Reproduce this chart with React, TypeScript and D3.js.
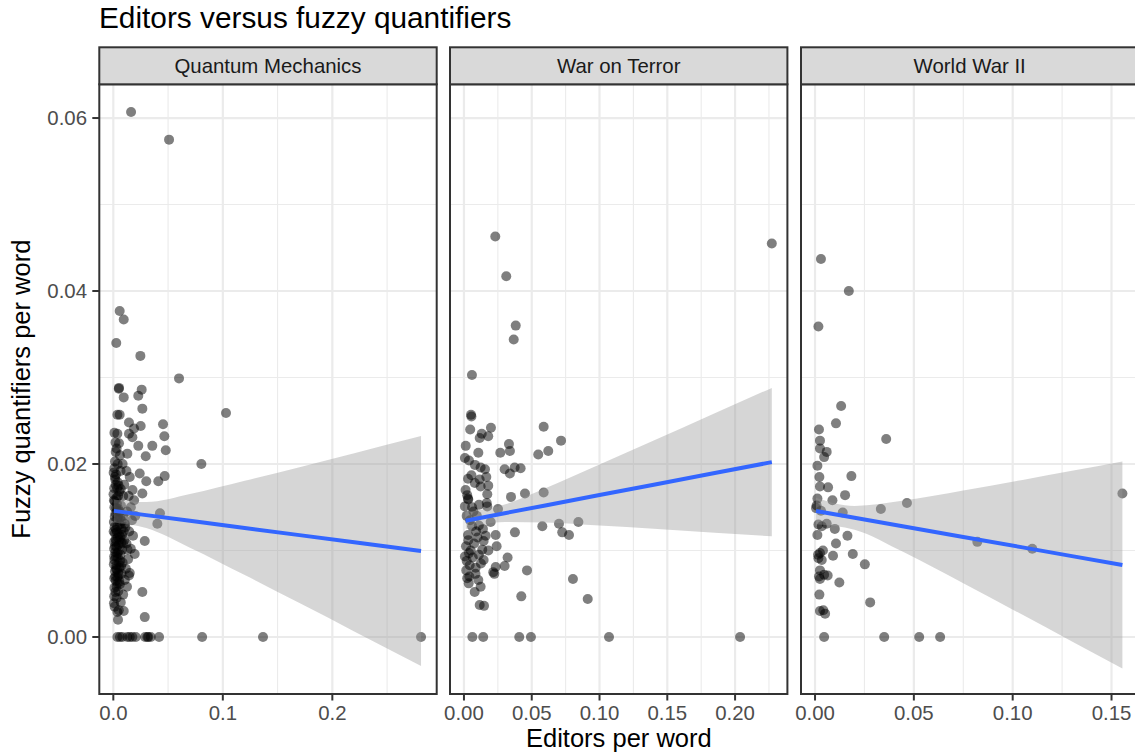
import React from "react";
import * as d3 from "d3";

// ---------- data ----------
const panels = ["Quantum Mechanics", "War on Terror", "World War II"];

// [editors per word, fuzzy quantifiers per word]
const qmPoints: [number, number][] = [
  [0.0162, 0.0607], [0.0509, 0.0575], [0.0058, 0.0377], [0.0095, 0.0367], [0.0027, 0.034],
  [0.0247, 0.0325], [0.06, 0.0299], [0.0052, 0.0288], [0.005, 0.0287], [0.0259, 0.0286],
  [0.0095, 0.0277], [0.0228, 0.0279], [0.0265, 0.0264], [0.0037, 0.0257], [0.0058, 0.0257],
  [0.0143, 0.0248], [0.025, 0.0244], [0.0189, 0.0241], [0.0454, 0.0246], [0.1029, 0.0259],
  [0.0037, 0.0235], [0.0143, 0.0235], [0.0466, 0.0232], [0.0174, 0.0231], [0.0052, 0.0224],
  [0.0228, 0.0221], [0.0356, 0.0221], [0.0479, 0.0216], [0.0022, 0.0214], [0.0128, 0.0212],
  [0.0296, 0.0209], [0.0804, 0.02], [0.0241, 0.0189], [0.0301, 0.018], [0.0411, 0.018],
  [0.0469, 0.0186], [0.0265, 0.0166], [0.0426, 0.0143], [0.0402, 0.0131], [0.0287, 0.0111],
  [0.0143, 0.0071], [0.0265, 0.0052], [0.0287, 0.0023], [0.0006, 0.0039], [0.0037, 0.0029],
  [0.0043, 0.002],
  [0.0037, 0], [0.006, 0], [0.0082, 0], [0.0128, 0], [0.015, 0], [0.0174, 0], [0.0205, 0],
  [0.029, 0], [0.0311, 0], [0.032, 0], [0.0342, 0], [0.0418, 0], [0.0811, 0], [0.1367, 0], [0.281, 0],
  [0.001, 0.0195], [0.0025, 0.0188], [0.004, 0.0179], [0.0008, 0.0172], [0.0055, 0.0168],
  [0.003, 0.0161], [0.0012, 0.0157], [0.007, 0.0152], [0.0045, 0.0148], [0.002, 0.0143],
  [0.009, 0.014], [0.0035, 0.0137], [0.0005, 0.0133], [0.006, 0.013], [0.011, 0.0127],
  [0.0025, 0.0124], [0.0015, 0.012], [0.008, 0.0118], [0.004, 0.0115], [0.01, 0.0112],
  [0.0008, 0.011], [0.005, 0.0107], [0.003, 0.0104], [0.013, 0.0101], [0.0018, 0.0098],
  [0.0065, 0.0095], [0.0042, 0.0092], [0.001, 0.0089], [0.0085, 0.0086], [0.0028, 0.0083],
  [0.0055, 0.008], [0.0015, 0.0076], [0.0075, 0.0073], [0.0038, 0.0069], [0.0022, 0.0065],
  [0.006, 0.0061], [0.001, 0.0057], [0.0045, 0.0053], [0.009, 0.0049], [0.003, 0.0045],
  [0.0068, 0.004], [0.0012, 0.0035],
  [0.002, 0.0225], [0.006, 0.021], [0.0015, 0.0203], [0.0085, 0.02], [0.012, 0.0192],
  [0.015, 0.0185], [0.01, 0.0176], [0.0175, 0.017], [0.014, 0.0163], [0.019, 0.0158],
  [0.016, 0.015], [0.0125, 0.0145], [0.02, 0.014], [0.017, 0.0135], [0.0105, 0.0131],
  [0.0145, 0.0122], [0.018, 0.0117], [0.012, 0.0108], [0.016, 0.0102], [0.0195, 0.0096],
  [0.0135, 0.009], [0.0115, 0.0079], [0.015, 0.0074], [0.0105, 0.0066], [0.0125, 0.0058],
  [0.0095, 0.003],
  [0.0003, 0.019], [0.0018, 0.0182], [0.0048, 0.0175], [0.0002, 0.0165], [0.0033, 0.0154],
  [0.0058, 0.0145], [0.0013, 0.0139], [0.0078, 0.0134], [0.0037, 0.0128], [0.0003, 0.0122],
  [0.0052, 0.0119], [0.0022, 0.0113], [0.0072, 0.0109], [0.0007, 0.0102], [0.0047, 0.0099],
  [0.0025, 0.0093], [0.0062, 0.0088], [0.0005, 0.0084], [0.0033, 0.0078], [0.005, 0.0072],
  [0.0018, 0.007], [0.004, 0.0062], [0.0008, 0.0047], [0.005, 0.0031], [0.0025, 0.011],
  [0.0065, 0.0116], [0.0035, 0.0146], [0.001, 0.015], [0.0068, 0.0171], [0.009, 0.0163],
  [0.008, 0.0101], [0.0095, 0.0122], [0.001, 0.0236], [0.004, 0.02], [0.003, 0.0218],
  [0.0015, 0.0185], [0.0035, 0.0172], [0.0006, 0.0158], [0.0027, 0.0149], [0.0045, 0.0139],
  [0.0012, 0.0127], [0.0034, 0.0121], [0.0057, 0.0112], [0.0016, 0.0105], [0.0038, 0.0097],
  [0.0008, 0.0093], [0.0052, 0.0086], [0.0024, 0.0079], [0.0042, 0.0074], [0.0009, 0.0068],
  [0.0031, 0.0058], [0.0055, 0.0064], [0.0019, 0.0052], [0.0062, 0.0138], [0.0074, 0.0125],
  [0.0044, 0.0163], [0.0021, 0.0176], [0.0066, 0.0192], [0.0088, 0.0108], [0.0071, 0.0082],
];

const wotPoints: [number, number][] = [
  [0.0231, 0.0463], [0.0312, 0.0417], [0.0382, 0.036], [0.0367, 0.0344], [0.0059, 0.0303],
  [0.0052, 0.0257], [0.0055, 0.0255], [0.0046, 0.024], [0.0199, 0.0242], [0.0131, 0.0235],
  [0.0116, 0.023], [0.0179, 0.0232], [0.0013, 0.0221], [0.0106, 0.0213], [0.0332, 0.0223],
  [0.0339, 0.0215], [0.0268, 0.0213], [0.0588, 0.0243], [0.0622, 0.0215], [0.0548, 0.0211],
  [0.0716, 0.0227], [0.0007, 0.0207], [0.0037, 0.0204], [0.0081, 0.0199], [0.0123, 0.0196],
  [0.0155, 0.0194], [0.0165, 0.0185], [0.03, 0.0194], [0.0339, 0.0189], [0.0374, 0.0196],
  [0.0418, 0.0195], [0.003, 0.0183], [0.0116, 0.0182], [0.0123, 0.0174], [0.0179, 0.0175],
  [0.0024, 0.0164], [0.0032, 0.0159], [0.0172, 0.0165], [0.0168, 0.0155], [0.0347, 0.0162],
  [0.045, 0.0166], [0.0588, 0.0167], [0.0007, 0.0151], [0.0111, 0.0153], [0.0172, 0.0151],
  [0.0251, 0.0148], [0.0197, 0.0133], [0.0578, 0.0128], [0.0701, 0.0131], [0.0725, 0.0121],
  [0.0775, 0.0118], [0.0844, 0.0133], [0.0376, 0.0121], [0.0032, 0.0112], [0.0145, 0.0111],
  [0.0234, 0.0118], [0.0241, 0.0105], [0.0007, 0.0093], [0.0037, 0.0097], [0.0135, 0.0101],
  [0.0145, 0.0089], [0.0042, 0.0083], [0.0086, 0.008], [0.0017, 0.0077], [0.0234, 0.0081],
  [0.0216, 0.0075], [0.0322, 0.0092], [0.03, 0.0082], [0.0224, 0.0073], [0.0024, 0.0068],
  [0.0106, 0.0066], [0.0123, 0.0058], [0.0079, 0.0052], [0.0116, 0.0037], [0.0148, 0.0036],
  [0.0465, 0.0077], [0.0423, 0.0047], [0.0804, 0.0067], [0.0913, 0.0044],
  [0.002, 0.014], [0.0045, 0.0135], [0.006, 0.0128], [0.009, 0.0122], [0.003, 0.0118],
  [0.0075, 0.0108], [0.01, 0.0115], [0.005, 0.01], [0.002, 0.0088], [0.0065, 0.0092],
  [0.011, 0.0095], [0.0085, 0.0073], [0.004, 0.007], [0.0125, 0.0085], [0.003, 0.016],
  [0.007, 0.0145], [0.0012, 0.017], [0.0095, 0.014], [0.0055, 0.0187], [0.008, 0.0178],
  [0.014, 0.0125], [0.016, 0.0117], [0.011, 0.0129], [0.0015, 0.0105], [0.0035, 0.0062],
  [0.018, 0.01], [0.006, 0.015],
  [0.0062, 0], [0.0142, 0], [0.0408, 0], [0.0494, 0], [0.107, 0], [0.2037, 0],
  [0.2271, 0.0455],
];

const ww2Points: [number, number][] = [
  [0.003, 0.0437], [0.0171, 0.04], [0.0017, 0.0359], [0.0132, 0.0267], [0.0106, 0.0247],
  [0.002, 0.024], [0.036, 0.0229], [0.0025, 0.0227], [0.0025, 0.0218], [0.0059, 0.0214],
  [0.0046, 0.0208], [0.0012, 0.0198], [0.0022, 0.0185], [0.0184, 0.0186], [0.0025, 0.0174],
  [0.0066, 0.0173], [0.0152, 0.0164], [0.0088, 0.0158], [0.0012, 0.016], [0.0005, 0.0149],
  [0.0333, 0.0148], [0.0465, 0.0155], [0.014, 0.0144], [0.0017, 0.013], [0.0034, 0.0128],
  [0.0059, 0.0131], [0.01, 0.0125], [0.0164, 0.0117], [0.0012, 0.0118], [0.0106, 0.0108],
  [0.0191, 0.0096], [0.0091, 0.0094], [0.0252, 0.0084], [0.0025, 0.0097], [0.0017, 0.0091],
  [0.0034, 0.0089], [0.0025, 0.0077], [0.0025, 0.0067], [0.0064, 0.0071], [0.0046, 0.0072],
  [0.0123, 0.0063], [0.0022, 0.0049], [0.0279, 0.004], [0.0025, 0.003], [0.0042, 0.0031],
  [0.0051, 0.0027], [0.0008, 0.0152], [0.003, 0.0146], [0.0015, 0.0095], [0.004, 0.01],
  [0.002, 0.007],
  [0.0046, 0], [0.035, 0], [0.0527, 0], [0.0633, 0],
  [0.0821, 0.011], [0.1099, 0.0102], [0.1555, 0.0166],
];

// linear fit with 95% band: x, fit, lower, upper
const qmSmoothX = [0.0005, 0.03, 0.07, 0.12, 0.17, 0.22, 0.281];
const qmSmoothFit = [0.01458, 0.01409, 0.01343, 0.01261, 0.01178, 0.01095, 0.00994];
const qmSmoothLo = [0.01325, 0.0126, 0.01033, 0.00716, 0.00392, 0.00065, -0.00335];
const qmSmoothHi = [0.01591, 0.0156, 0.01653, 0.01806, 0.01964, 0.02125, 0.02323];

const wotSmoothX = [0.0012, 0.03, 0.06, 0.1, 0.14, 0.185, 0.2271];
const wotSmoothFit = [0.01345, 0.01431, 0.01521, 0.01641, 0.01761, 0.01896, 0.02022];
const wotSmoothLo = [0.01248, 0.01331, 0.01323, 0.01289, 0.01251, 0.01206, 0.01164];
const wotSmoothHi = [0.01442, 0.01531, 0.01719, 0.01993, 0.02271, 0.02586, 0.0288];

const ww2SmoothX = [0.0005, 0.02, 0.045, 0.075, 0.105, 0.13, 0.1555];
const ww2SmoothFit = [0.01457, 0.01378, 0.01278, 0.01157, 0.01036, 0.00935, 0.00832];
const ww2SmoothLo = [0.01304, 0.01241, 0.00979, 0.00621, 0.00256, -0.00051, -0.00364];
const ww2SmoothHi = [0.0161, 0.01515, 0.01577, 0.01693, 0.01816, 0.01921, 0.02028];

// axes
const xDomains: [number, number][] = [[-0.0128, 0.2953], [-0.0103, 0.2386], [-0.0071, 0.1636]];
const xBreaks = [[0, 0.1, 0.2], [0, 0.05, 0.1, 0.15, 0.2], [0, 0.05, 0.1, 0.15]];
const xLabels = [["0.0", "0.1", "0.2"], ["0.00", "0.05", "0.10", "0.15", "0.20"], ["0.00", "0.05", "0.10", "0.15"]];
const xMinor = [[0.05, 0.15, 0.25], [0.025, 0.075, 0.125, 0.175, 0.225], [0.025, 0.075, 0.125]];
const yDomain: [number, number] = [-0.00659, 0.0639];
const yBreaks = [0, 0.02, 0.04, 0.06];
const yLabels = ["0.00", "0.02", "0.04", "0.06"];
const yMinor = [0.01, 0.03, 0.05];

const title = "Editors versus fuzzy quantifiers";
const xTitle = "Editors per word";
const yTitle = "Fuzzy quantifiers per word";

// ---------- layout ----------
const W = 1135, H = 754;
const panelLefts = [99.3, 450, 801];
const panelW = 337.4;
const stripTop = 47.3;
const panelTop = 84.3;
const panelBottom = 694;
const FONT = "'Liberation Sans', Arial, Helvetica, sans-serif";
const BASE = 25.5;

const pointsByPanel = [qmPoints, wotPoints, ww2Points];
const smoothByPanel = [
  { x: qmSmoothX, fit: qmSmoothFit, lo: qmSmoothLo, hi: qmSmoothHi },
  { x: wotSmoothX, fit: wotSmoothFit, lo: wotSmoothLo, hi: wotSmoothHi },
  { x: ww2SmoothX, fit: ww2SmoothFit, lo: ww2SmoothLo, hi: ww2SmoothHi },
];

export default function App() {
  const y = d3.scaleLinear().domain(yDomain).range([panelBottom, panelTop]);
  return (
    <svg width={W} height={H} style={{ position: "absolute", left: 0, top: 0, background: "#fff" }}>
      <rect x={0} y={0} width={W} height={H} fill="#fff" />
      <text x={99} y={28} fontFamily={FONT} fontSize={29.8} fill="#000">{title}</text>
      {panels.map((name, i) => {
        const x = d3.scaleLinear().domain(xDomains[i]).range([panelLefts[i], panelLefts[i] + panelW]);
        const sm = smoothByPanel[i];
        const rows = sm.x.map((v, k) => ({ x: v, fit: sm.fit[k], lo: sm.lo[k], hi: sm.hi[k] }));
        const area = d3.area<any>().x(d => x(d.x)).y0(d => y(d.lo)).y1(d => y(d.hi)).curve(d3.curveMonotoneX);
        const line = d3.line<any>().x(d => x(d.x)).y(d => y(d.fit));
        const clipId = `clip${i}`;
        return (
          <g key={name}>
            <defs>
              <clipPath id={clipId}>
                <rect x={panelLefts[i]} y={panelTop} width={panelW} height={panelBottom - panelTop} />
              </clipPath>
            </defs>
            {/* grid */}
            {yMinor.map(v => (
              <line key={"ym" + v} x1={panelLefts[i]} x2={panelLefts[i] + panelW} y1={y(v)} y2={y(v)} stroke="#EBEBEB" strokeWidth={1.1} />
            ))}
            {xMinor[i].map(v => (
              <line key={"xm" + v} x1={x(v)} x2={x(v)} y1={panelTop} y2={panelBottom} stroke="#EBEBEB" strokeWidth={1.1} clipPath={`url(#${clipId})`} />
            ))}
            {yBreaks.map(v => (
              <line key={"yg" + v} x1={panelLefts[i]} x2={panelLefts[i] + panelW} y1={y(v)} y2={y(v)} stroke="#EBEBEB" strokeWidth={2.2} />
            ))}
            {xBreaks[i].map(v => (
              <line key={"xg" + v} x1={x(v)} x2={x(v)} y1={panelTop} y2={panelBottom} stroke="#EBEBEB" strokeWidth={2.2} />
            ))}
            {/* points */}
            <g clipPath={`url(#${clipId})`}>
              {pointsByPanel[i].map((p, k) => (
                <circle key={k} cx={x(p[0])} cy={y(p[1])} r={5} fill="#000" fillOpacity={0.5} />
              ))}
              <path d={area(rows) || ""} fill="#999999" fillOpacity={0.4} />
              <path d={line(rows) || ""} fill="none" stroke="#3366FF" strokeWidth={4} />
            </g>
            {/* panel border */}
            <rect x={panelLefts[i]} y={panelTop} width={panelW} height={panelBottom - panelTop} fill="none" stroke="#333333" strokeWidth={2} />
            {/* strip */}
            <rect x={panelLefts[i]} y={stripTop} width={panelW} height={panelTop - stripTop} fill="#D9D9D9" stroke="#333333" strokeWidth={2} />
            <text x={panelLefts[i] + panelW / 2} y={73} textAnchor="middle" fontFamily={FONT} fontSize={BASE * 0.8} fill="#1A1A1A">{name}</text>
            {/* x axis */}
            {xBreaks[i].map((v, k) => (
              <g key={"xt" + v}>
                <line x1={x(v)} x2={x(v)} y1={panelBottom} y2={panelBottom + 6.5} stroke="#333333" strokeWidth={2} />
                <text x={x(v)} y={719.5} textAnchor="middle" fontFamily={FONT} fontSize={BASE * 0.8} fill="#4D4D4D">{xLabels[i][k]}</text>
              </g>
            ))}
          </g>
        );
      })}
      {/* y axis */}
      {yBreaks.map((v, k) => (
        <g key={"yt" + v}>
          <line x1={panelLefts[0] - 7} x2={panelLefts[0]} y1={y(v)} y2={y(v)} stroke="#333333" strokeWidth={2} />
          <text x={87} y={y(v)} dy="0.36em" textAnchor="end" fontFamily={FONT} fontSize={BASE * 0.8} fill="#4D4D4D">{yLabels[k]}</text>
        </g>
      ))}
      <text x={(panelLefts[0] + panelLefts[2] + panelW) / 2} y={747} textAnchor="middle" fontFamily={FONT} fontSize={BASE} fill="#000">{xTitle}</text>
      <text transform={`translate(30, ${(panelTop + panelBottom) / 2}) rotate(-90)`} textAnchor="middle" fontFamily={FONT} fontSize={BASE} fill="#000">{yTitle}</text>
    </svg>
  );
}
